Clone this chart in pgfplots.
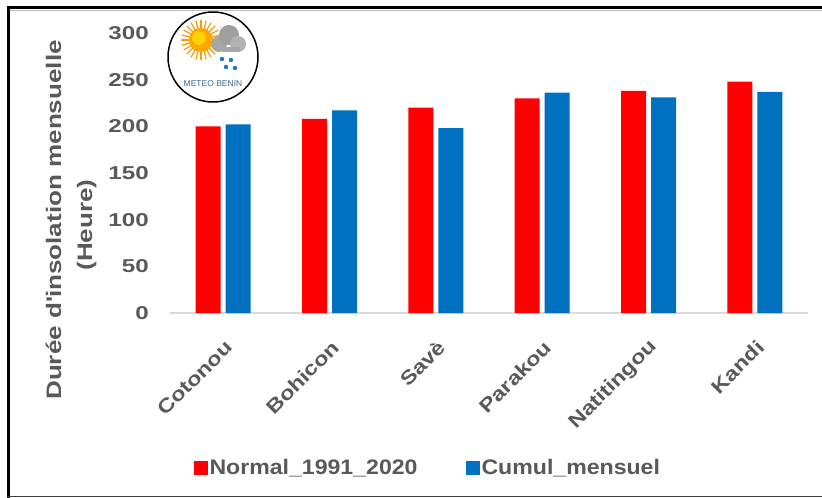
\documentclass[border=0pt]{standalone}
\usepackage{pgfplots}
\pgfplotsset{compat=1.18}
\usepackage{fontspec}
\setmainfont{Liberation Sans}
\newfontfamily\ytickfont[FakeStretch=1.3]{Liberation Sans}
\newfontfamily\ylabfont[FakeStretch=1.24]{Liberation Sans}
\newfontfamily\xtickfont[FakeStretch=1.2]{Liberation Sans}
\newfontfamily\legfont[FakeStretch=1.1]{Liberation Sans}
\definecolor{txtgray}{HTML}{595959}
\definecolor{barred}{HTML}{FF0000}
\definecolor{barblue}{HTML}{0070C0}
\definecolor{axisgray}{HTML}{D9D9D9}
\definecolor{logoblue}{HTML}{3B6E8F}
\begin{document}
\begin{tikzpicture}
\useasboundingbox (0,0) rectangle (822bp,-498bp);
\fill[white] (0,0) rectangle (822bp,-498bp);
% frame
\draw[black, line width=3bp] (8.5bp,-498bp) -- (8.5bp,-7.5bp) -- (822bp,-7.5bp);
\draw[gray!50, line width=1bp] (10bp,-10.5bp) -- (822bp,-10.5bp);
\draw[black!75, line width=1.5bp] (7bp,-496.5bp) -- (822bp,-496.5bp);
\begin{axis}[
  at={(170bp,-313bp)}, anchor=south west,
  scale only axis, width=638bp, height=280bp,
  xmin=-0.5, xmax=5.5, ymin=0, ymax=300,
  axis x line*=bottom, axis y line*=left,
  x axis line style={draw=axisgray, line width=2bp, -},
  y axis line style={draw=none},
  ybar=5bp, bar width=25bp,
  xtick={0,1,2,3,4,5},
  xticklabels={Cotonou,Bohicon,Savè,Parakou,Natitingou,Kandi},
  ytick={0,50,100,150,200,250,300},
  major tick length=0pt,
  /pgf/number format/assume math mode=true,
  yticklabel style={font=\ytickfont\bfseries\fontsize{18.6bp}{20bp}\selectfont, text=txtgray, anchor=east, inner sep=0pt, xshift=-21bp},
  xticklabel style={xshift=6bp, yshift=-31bp, rotate=45, font=\xtickfont\bfseries\fontsize{19.5bp}{21bp}\selectfont, text=txtgray, anchor=east, inner sep=0pt},
  legend columns=2,
  legend style={at={(0.404,-0.554)}, anchor=center, draw=none, fill=none,
    font=\legfont\bfseries\fontsize{21bp}{23bp}\selectfont, text=txtgray,
    /tikz/every even column/.append style={column sep=46bp}},
  legend image code/.code={\fill[#1] (-3bp,-7bp) rectangle (11bp,7bp);},
]
\addplot[fill=barred, draw=none] coordinates {(0,200) (1,208) (2,220) (3,230) (4,238) (5,248)};
\addplot[fill=barblue, draw=none] coordinates {(0,202) (1,217) (2,198) (3,236) (4,231) (5,237)};
\legend{Normal\_1991\_2020, Cumul\_mensuel}
\end{axis}
% y label
\node[rotate=90, anchor=base, inner sep=0pt, text=txtgray, font=\ylabfont\bfseries\fontsize{21bp}{24bp}\selectfont] at (61bp,-220bp) {Durée d\textquotesingle insolation mensuelle};
\node[rotate=90, anchor=base, inner sep=0pt, text=txtgray, font=\ylabfont\bfseries\fontsize{21bp}{24bp}\selectfont] at (92bp,-225bp) {(Heure)};
% logo
\draw[black, line width=1.5bp, fill=white] (213bp,-57bp) circle (45bp);
\foreach \a in {0,15,...,345} {
  \draw[orange!80!yellow, line width=1.2bp] (201bp,-40bp) -- ++(\a:20bp);
}
\fill[orange!70!yellow] (201bp,-40bp) circle (12bp);
\fill[yellow!70!orange] (199bp,-38bp) circle (7bp);
\fill[gray!70] (219bp,-44bp) circle (8bp);
\fill[gray!75] (229bp,-35bp) circle (10bp);
\fill[gray!60] (238bp,-44bp) circle (8bp);
\fill[gray!70] (222bp,-47bp) rectangle (240bp,-52bp);
\fill[cyan!60!blue] (222bp,-59bp) circle (2.2bp);
\fill[cyan!60!blue] (231bp,-60bp) circle (2.2bp);
\fill[cyan!60!blue] (226bp,-67bp) circle (2.2bp);
\fill[cyan!60!blue] (235bp,-68bp) circle (2.2bp);
\node[text=logoblue, font=\fontsize{8.5bp}{9bp}\selectfont, inner sep=0pt] at (213bp,-84bp) {METEO BENIN};
\end{tikzpicture}
\end{document}
